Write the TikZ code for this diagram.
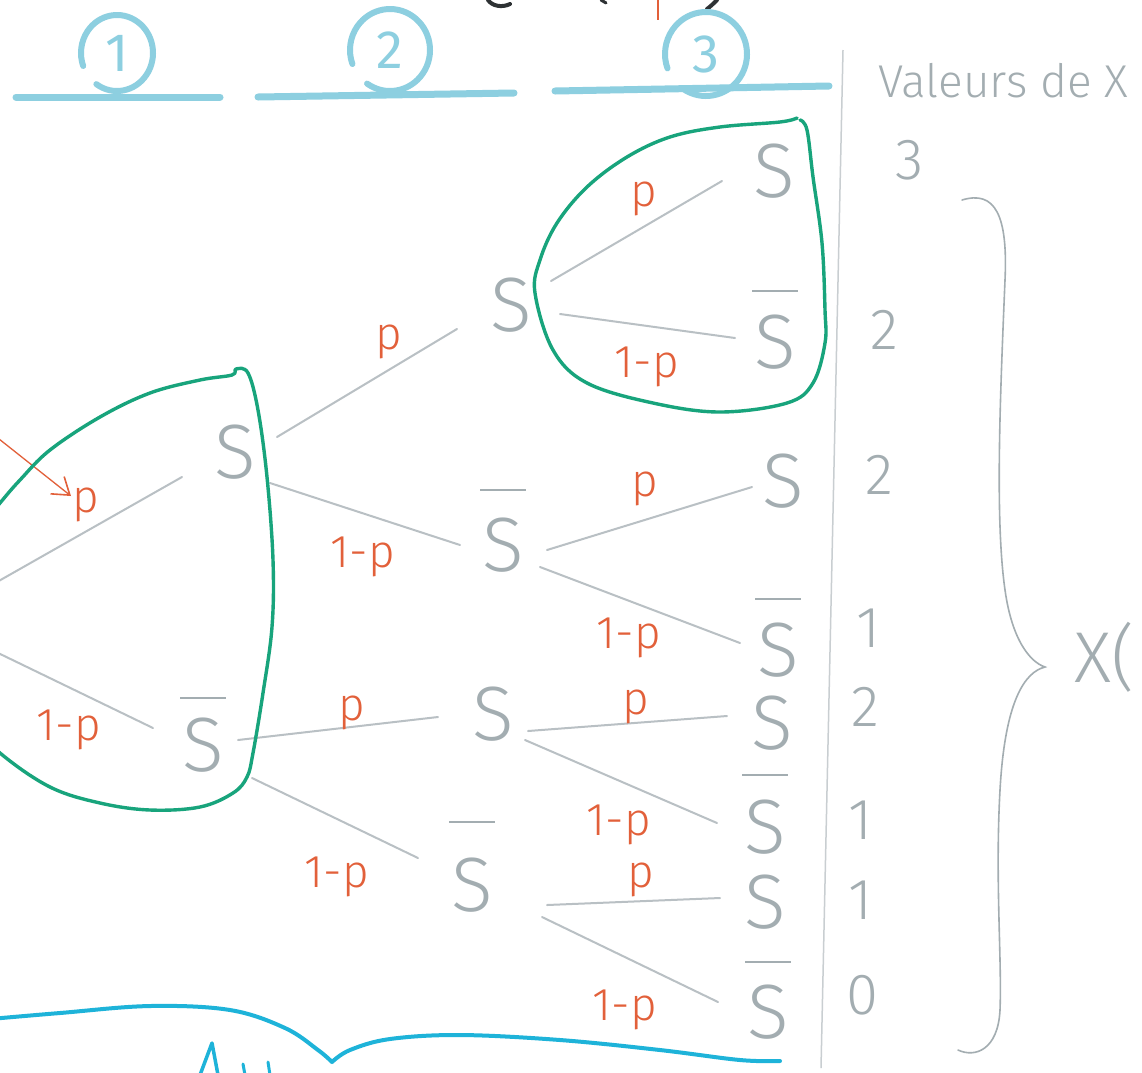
\documentclass[tikz,border=0pt]{standalone}
\usepackage{fontspec}
\newfontfamily\hand{Fira Sans Light}
\newfontfamily\handr{Fira Sans}
\usetikzlibrary{arrows.meta}
\definecolor{pencil}{HTML}{A3ADB1}
\definecolor{pline}{HTML}{B9C0C4}
\definecolor{redo}{HTML}{E2603A}
\definecolor{cyanh}{HTML}{8DCFE0}
\definecolor{greenl}{HTML}{18A47C}
\definecolor{cyanb}{HTML}{1EB3D9}
\definecolor{divg}{HTML}{C9CED1}
\definecolor{inkk}{HTML}{2E3234}
\begin{document}
\begin{tikzpicture}[x=1pt,y=-1pt,
  ev/.style={font=\hand\fontsize{77}{77}\selectfont,text=pencil,inner sep=0pt},
  evb/.style={ev,label={[text=pencil,inner sep=0pt,label distance=#1]above:\rule{46pt}{2.2pt}}},
  evb/.default=20pt,
  br/.style={draw=pline,line width=2pt,line cap=round},
  lab/.style={font=\hand\fontsize{46}{46}\selectfont,text=redo,inner sep=0pt},
  val/.style={font=\hand\fontsize{58}{58}\selectfont,text=pencil,inner sep=0pt},
  loopg/.style={draw=greenl,line width=3.4pt,line cap=round,line join=round},
  hdr/.style={draw=cyanh,line width=7pt,line cap=round},
  hnum/.style={font=\handr\fontsize{54}{54}\selectfont,text=cyanh,inner sep=0pt},
  harc/.style={draw=cyanh,line width=6pt,line cap=round},
  brc/.style={draw=pencil,line width=1.6pt,line cap=round},
  ink/.style={draw=inkk,line width=4pt,line cap=round},
  arr/.style={draw=redo,line width=1.3pt,-{Straight Barb[length=16pt,width=22pt,line width=1.6pt]}}
]
\useasboundingbox (0,0) rectangle (1142,1072);
\fill[white] (0,0) rectangle (1142,1072);
\clip (0,0) rectangle (1142,1072);

% cropped formula at the top
\draw[ink] (488,0) .. controls (492,6) and (502,8) .. (510,4);
\draw[ink,line width=3pt] (601,0) -- (606,3);
\draw[draw=redo,line width=2.2pt] (658,0) -- (658,20);
\draw[ink] (707,9) .. controls (711,6) and (714,3) .. (717,0);

% headers
\node[hnum] (h1) at (117,53) {1};
\node[hnum] (h2) at (390,50) {2};
\node[hnum] (h3) at (706,54) {3};
\draw[harc] (h1.center) ++(125:36 and 38) arc[start angle=125,end angle=-200,x radius=36,y radius=38];
\draw[harc] (h2.center) ++(125:40 and 41) arc[start angle=125,end angle=-200,x radius=40,y radius=41];
\draw[harc] (h3.center) ++(125:41 and 42) arc[start angle=125,end angle=-200,x radius=41,y radius=42];
\draw[hdr] (16,97) -- (220,97);
\draw[hdr] (258,97) -- (514,93);
\draw[hdr] (555,91) -- (829,86);

% divider and right column
\draw[draw=divg,line width=1.5pt] (843,50) -- (821,1068);
\node[font=\hand\fontsize{46}{46}\selectfont,text=pencil,inner sep=0pt,anchor=base west] (vx) at (878,97) {Valeurs de X};
\node[val] (v1) at (910,160) {3};
\node[val] (v2) at (884,330) {2};
\node[val] (v3) at (879,475) {2};
\node[val] (v4) at (868,628) {1};
\node[val] (v5) at (865,707) {2};
\node[val] (v6) at (860,820) {1};
\node[val] (v7) at (860,900) {1};
\node[val] (v8) at (862,995) {0};
\draw[brc] (962,200) .. controls (995,190) and (1008,215) .. (1005,280)
  .. controls (1000,400) and (995,520) .. (1005,590)
  .. controls (1012,640) and (1030,662) .. (1045,667)
  .. controls (1025,672) and (1005,700) .. (1000,790)
  .. controls (995,880) and (1002,960) .. (1000,1010)
  .. controls (998,1050) and (975,1058) .. (958,1050);
\node[font=\hand\fontsize{72}{72}\selectfont,text=pencil,inner sep=0pt,anchor=base west] (xp) at (1074,682) {X(};

% tree nodes
\coordinate (root) at (-70,620);
\node[ev] (S1) at (235,452) {S};
\node[evb=18pt] (B1) at (203,745) {S};
\node[ev] (a) at (511,305) {S};
\node[evb=26pt] (b) at (503,545) {S};
\node[ev] (c) at (493,714) {S};
\node[evb=34pt] (d) at (472,885) {S};
\node[ev] (aa) at (774,171) {S};
\node[evb=22pt] (ab) at (775,342) {S};
\node[ev] (ba) at (783,481) {S};
\node[evb=22pt] (bb) at (778,650) {S};
\node[ev] (ca) at (772,723) {S};
\node[evb=23pt] (cb) at (765,827) {S};
\node[ev] (da) at (765,902) {S};
\node[evb=21pt] (db) at (768,1012) {S};

% branches
\draw[br] (root) -- ([shift={(-53,25)}]S1.center);
\draw[br] (root) -- ([shift={(-50,-17)}]B1.center);
\draw[br] ([shift={(42,-15)}]S1.center) -- ([shift={(-54,24)}]a.center);
\draw[br] ([shift={(35,31)}]S1.center) -- ([shift={(-43,0)}]b.center);
\draw[br] ([shift={(35,-5)}]B1.center) -- ([shift={(-55,3)}]c.center);
\draw[br] ([shift={(49,33)}]B1.center) -- ([shift={(-54,-27)}]d.center);
\draw[br] ([shift={(40,-24)}]a.center) -- ([shift={(-52,10)}]aa.center);
\draw[br] ([shift={(49,9)}]a.center) -- ([shift={(-40,-4)}]ab.center);
\draw[br] ([shift={(44,5)}]b.center) -- ([shift={(-31,6)}]ba.center);
\draw[br] ([shift={(37,22)}]b.center) -- ([shift={(-38,-7)}]bb.center);
\draw[br] ([shift={(35,17)}]c.center) -- ([shift={(-45,-7)}]ca.center);
\draw[br] ([shift={(32,26)}]c.center) -- ([shift={(-48,-4)}]cb.center);
\draw[br] ([shift={(75,20)}]d.center) -- ([shift={(-45,-4)}]da.center);
\draw[br] ([shift={(70,32)}]d.center) -- ([shift={(-50,-10)}]db.center);

% branch labels
\node[lab] (lp0) at (86,505) {p};
\node[lab] (lq0) at (69,730) {1-p};
\node[lab] (lpa) at (389,342) {p};
\node[lab] (lqb) at (363,557) {1-p};
\node[lab] (lpc) at (352,713) {p};
\node[lab] (lqd) at (337,877) {1-p};
\node[lab] (lpaa) at (644,199) {p};
\node[lab] (lqab) at (647,367) {1-p};
\node[lab] (lpba) at (645,489) {p};
\node[lab] (lqbb) at (629,638) {1-p};
\node[lab] (lpca) at (636,707) {p};
\node[lab] (lqcb) at (619,825) {1-p};
\node[lab] (lpda) at (641,880) {p};
\node[lab] (lqdb) at (625,1010) {1-p};

% incoming arrow
\coordinate (arrs) at (-6,435);
\draw[arr] (arrs) -- ([shift={(-15,-9)}]lp0.center);

% green loops
\draw[loopg] plot[smooth,tension=0.6] coordinates {
  (797,118) (780,122) (720,127) (670,137) (627,157) (587,187) (557,223)
  (540,260) (535,293) (553,350) (587,383) (653,403) (720,412) (787,403)
  (813,383) (825,343) (825,310) (822,243) (813,177) (807,130) (800,120)};
\draw[loopg] plot[smooth,tension=0.6] coordinates {
  (-30,540) (0,503) (20,480) (50,450) (100,417) (150,393) (200,380) (232,375)
  (236,369) (248,373) (258,410) (267,477) (273,560) (272,627) (263,693)
  (253,753) (247,777) (233,793) (200,807) (150,810) (100,803) (50,787) (0,753) (-30,720)};

% bottom cyan brace
\draw[draw=cyanb,line width=4pt,line cap=round,line join=round]
  plot[smooth,tension=0.6] coordinates {(-10,1019) (60,1013) (150,1006) (230,1010) (285,1028) (318,1050) (332,1062)}
  plot[smooth,tension=0.6] coordinates {(332,1062) (350,1050) (390,1039) (460,1035) (560,1040) (660,1050) (740,1060) (780,1061)};
\draw[draw=cyanb,line width=3.5pt,line cap=round,line join=round]
  (200,1075) -- (212,1043) -- (218,1075);
\draw[draw=cyanb,line width=3pt,line cap=round] (243,1064) -- (245,1075);
\draw[draw=cyanb,line width=3pt,line cap=round] (268,1062) -- (270,1075);
\end{tikzpicture}
\end{document}
